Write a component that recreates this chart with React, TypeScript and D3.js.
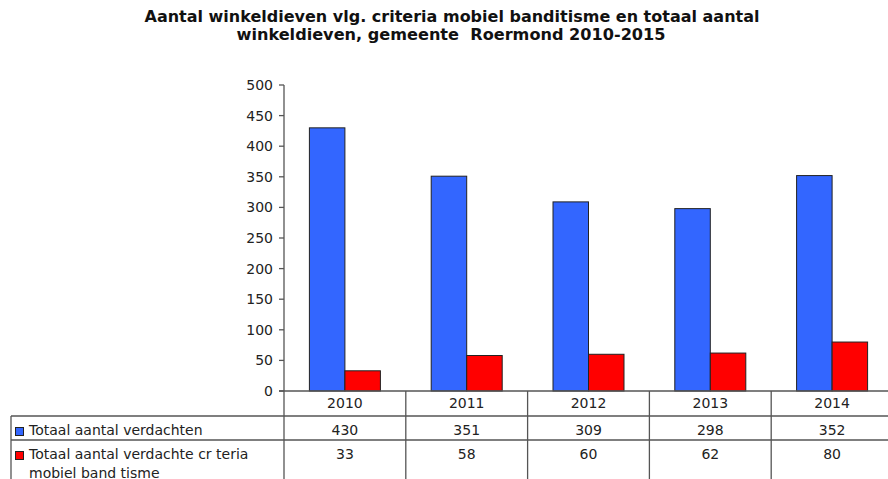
import React from 'react';
import * as d3 from 'd3';

// chart data
const years: string[] = ['2010', '2011', '2012', '2013', '2014'];
const totaalVerdachten: number[] = [430, 351, 309, 298, 352];
const mobielBanditisme: number[] = [33, 58, 60, 62, 80];
const seriesNames: string[] = ['Totaal aantal verdachten', 'Totaal aantal verdachte cr teria|mobiel band tisme'];
const seriesColors: string[] = ['#3366ff', '#ff0000'];
const yTicks: number[] = [0, 50, 100, 150, 200, 250, 300, 350, 400, 450, 500];

const W = 888;
const H = 479;
const font = '"DejaVu Sans", Verdana, sans-serif';
const lineColor = '#555';
const textColor = '#222';

const App = () => {
  // scales
  const x = d3.scaleBand<string>().domain(years).range([284, 284 + 5 * 121.8]);
  const y = d3.scaleLinear().domain([0, 500]).range([391, 85]);
  const inner = d3.scaleBand<number>().domain([0, 1]).range([0, 71]);
  const groupOffset = (x.bandwidth() - 71) / 2;

  const series = [totaalVerdachten, mobielBanditisme];

  const tableLeft = 11;
  const rowTop = [416, 440];
  const rowBaseline = [435, 459];

  return (
    <svg width={W} height={H} style={{ position: 'absolute', left: 0, top: 0, background: '#fff' }}
      fontFamily={font}>
      {/* title */}
      <text x={452} y={22} textAnchor="middle" fontSize={15} fontWeight="bold" fill="#111"
        textLength={615} lengthAdjust="spacingAndGlyphs">
        Aantal winkeldieven vlg. criteria mobiel banditisme en totaal aantal
      </text>
      <text x={451} y={40} textAnchor="middle" fontSize={15} fontWeight="bold" fill="#111"
        style={{ whiteSpace: 'pre' }} textLength={429} lengthAdjust="spacingAndGlyphs">
        {'winkeldieven, gemeente  Roermond 2010-2015'}
      </text>

      {/* y axis */}
      <line x1={284} x2={284} y1={y(500)} y2={H} stroke={lineColor} strokeWidth={1.3} />
      {yTicks.map(t => (
        <g key={t}>
          <line x1={279} x2={284} y1={y(t)} y2={y(t)} stroke={lineColor} strokeWidth={1.3} />
          <text x={273} y={y(t) + 5} textAnchor="end" fontSize={14} fill={textColor}>{t}</text>
        </g>
      ))}

      {/* bars */}
      {years.map((yr, i) => (
        <g key={yr} transform={`translate(${x(yr)! + groupOffset},0)`}>
          {series.map((s, j) => (
            <rect key={j} x={inner(j)} y={y(s[i])} width={inner.bandwidth()} height={y(0) - y(s[i])}
              fill={seriesColors[j]} stroke="#222" strokeWidth={1} />
          ))}
        </g>
      ))}

      {/* baseline */}
      <line x1={279} x2={W} y1={y(0)} y2={y(0)} stroke={lineColor} strokeWidth={1.3} />

      {/* data table */}
      {rowTop.map(r => (
        <line key={r} x1={tableLeft} x2={W} y1={r} y2={r} stroke={lineColor} strokeWidth={1.3} />
      ))}
      <line x1={tableLeft} x2={tableLeft} y1={rowTop[0]} y2={H} stroke={lineColor} strokeWidth={1.3} />
      {years.map(yr => (
        <line key={yr} x1={x(yr)! + x.bandwidth()} x2={x(yr)! + x.bandwidth()} y1={y(0)} y2={H}
          stroke={lineColor} strokeWidth={1.3} />
      ))}
      {years.map(yr => (
        <text key={yr} x={x(yr)! + x.bandwidth() / 2} y={408} textAnchor="middle" fontSize={14} fill={textColor}>{yr}</text>
      ))}
      {series.map((s, j) => (
        <g key={j}>
          <rect x={15.5} y={rowTop[j] + 11.5} width={8} height={8} fill={seriesColors[j]} stroke="#222" strokeWidth={1} />
          {seriesNames[j].split('|').map((ln, k) => (
            <text key={k} x={29} y={rowBaseline[j] + k * 19} fontSize={14} fill={textColor}>{ln}</text>
          ))}
          {years.map((yr, i) => (
            <text key={yr} x={x(yr)! + x.bandwidth() / 2} y={rowBaseline[j]} textAnchor="middle" fontSize={14} fill={textColor}>{s[i]}</text>
          ))}
        </g>
      ))}
    </svg>
  );
};

export default App;
